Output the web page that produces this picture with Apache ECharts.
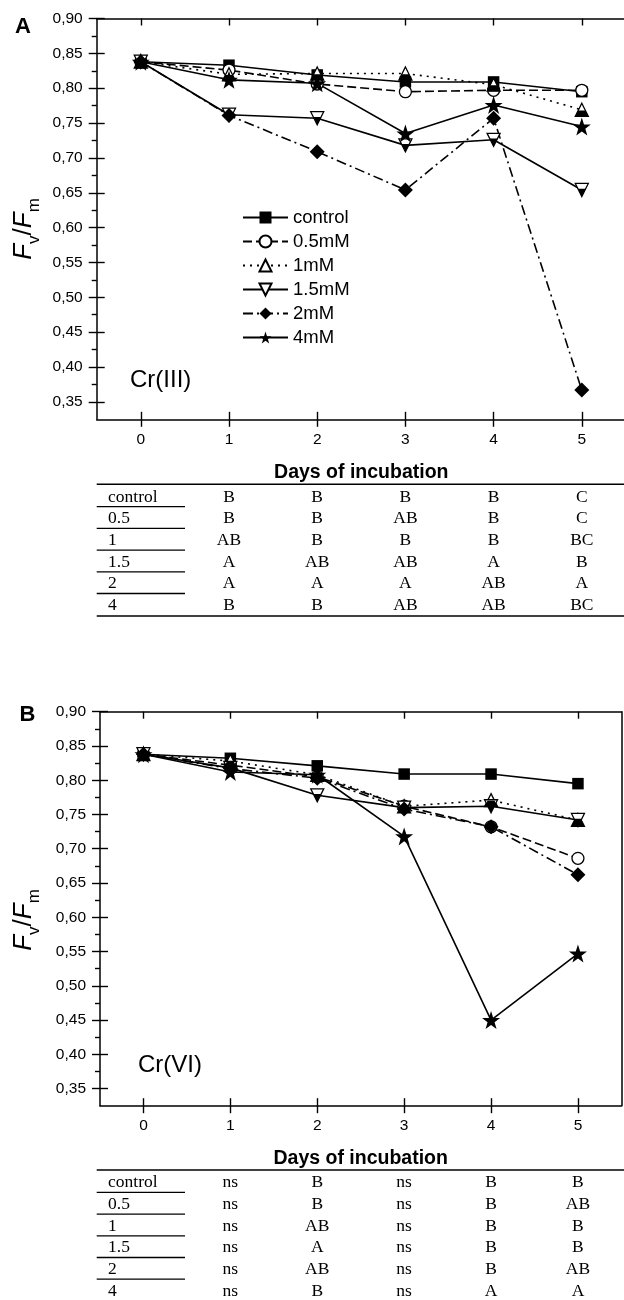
<!DOCTYPE html>
<html><head><meta charset="utf-8">
<script src="https://cdn.jsdelivr.net/npm/echarts@6/dist/echarts.min.js"></script>
<style>html,body{margin:0;padding:0;background:#fff;} #c{width:624px;height:1300px;}</style>
</head><body><div id="c"></div>
<script>
// ---------------- data ----------------
const days = ['0', '1', '2', '3', '4', '5'];
const doseNames = ['control', '0.5mM', '1mM', '1.5mM', '2mM', '4mM'];
const yTickValues = [0.35, 0.40, 0.45, 0.50, 0.55, 0.60, 0.65, 0.70, 0.75, 0.80, 0.85, 0.90];
const yMinorValues = [0.375, 0.425, 0.475, 0.525, 0.575, 0.625, 0.675, 0.725, 0.775, 0.825, 0.875];

// Panel A: Cr(III)
const a_control = [0.838, 0.833, 0.819, 0.809, 0.809, 0.795];
const a_05 = [0.838, 0.826, 0.806, 0.795, 0.797, 0.797];
const a_1 = [0.838, 0.820, 0.821, 0.821, 0.805, 0.769];
const a_15 = [0.838, 0.762, 0.757, 0.718, 0.726, 0.654];
const a_2 = [0.838, 0.761, 0.709, 0.654, 0.757, 0.367];
const a_4 = [0.838, 0.812, 0.807, 0.735, 0.776, 0.745];

// Panel B: Cr(VI)
const b_control = [0.838, 0.832, 0.821, 0.809, 0.809, 0.795];
const b_05 = [0.838, 0.822, 0.805, 0.762, 0.732, 0.686];
const b_1 = [0.838, 0.828, 0.808, 0.762, 0.771, 0.742];
const b_15 = [0.838, 0.818, 0.778, 0.760, 0.762, 0.742];
const b_2 = [0.838, 0.817, 0.803, 0.758, 0.732, 0.662];
const b_4 = [0.838, 0.812, 0.808, 0.718, 0.450, 0.547];

// significance tables (columns: days 1..5)
const rowLabels = ['control', '0.5', '1', '1.5', '2', '4'];
const tableA = [
  ['B', 'B', 'B', 'B', 'C'],
  ['B', 'B', 'AB', 'B', 'C'],
  ['AB', 'B', 'B', 'B', 'BC'],
  ['A', 'AB', 'AB', 'A', 'B'],
  ['A', 'A', 'A', 'AB', 'A'],
  ['B', 'B', 'AB', 'AB', 'BC']
];
const tableB = [
  ['ns', 'B', 'ns', 'B', 'B'],
  ['ns', 'B', 'ns', 'B', 'AB'],
  ['ns', 'AB', 'ns', 'B', 'B'],
  ['ns', 'A', 'ns', 'B', 'B'],
  ['ns', 'AB', 'ns', 'B', 'AB'],
  ['ns', 'B', 'ns', 'A', 'A']
];

// ---------------- styling ----------------
const SANS = '"Liberation Sans", Arial, sans-serif';
const SERIF = '"Liberation Serif", "Times New Roman", serif';
const STAR = 'path://M50,0 L61.8,35.1 L98.1,35.1 L68.8,56.7 L79.4,91 L50,70 L20.6,91 L31.2,56.7 L1.9,35.1 L38.2,35.1 Z';
const UP_FULL = 'path://M50,0 L100,100 L0,100 Z';
const DOWN_FULL = 'path://M0,0 L100,0 L50,100 Z';
const TRAP = 'path://M22.5,0 L77.5,0 L100,100 L0,100 Z';

const TRI = 13;
const doseStyles = [
  { symbol: 'rect', size: 11.5, fill: '#000', dash: 'solid' },
  { symbol: 'circle', size: 12, fill: '#fff', border: true, dash: [9, 4] },
  { symbol: UP_FULL, size: TRI, fill: '#fff', border: true, dash: [2, 5],
    half: { symbol: TRAP, size: [TRI, TRI * 0.45], offset: [0, TRI * 0.275] } },
  { symbol: DOWN_FULL, size: TRI, fill: '#fff', border: true, dash: 'solid',
    half: { symbol: DOWN_FULL, size: [TRI * 0.6, TRI * 0.6], offset: [0, TRI * 0.2] } },
  { symbol: 'diamond', size: 15, fill: '#000', dash: [10, 4, 2, 4] },
  { symbol: STAR, size: 18, fill: '#000', dash: 'solid' }
];

function buildSeries(prefix, dataList, xi, yi) {
  const out = [];
  dataList.forEach((d, k) => {
    const st = doseStyles[k];
    const name = prefix + doseNames[k];
    out.push({
      type: 'line', name: name, data: d, xAxisIndex: xi, yAxisIndex: yi,
      symbol: st.symbol, symbolSize: st.size, showAllSymbol: true,
      lineStyle: { color: '#000', width: 1.6, type: st.dash },
      itemStyle: { color: st.fill, borderColor: '#000', borderWidth: st.border ? 1.3 : 0 },
      z: 2, silent: true
    });
    if (st.half) {
      out.push({
        type: 'line', name: '_h' + name, data: d, xAxisIndex: xi, yAxisIndex: yi,
        symbol: st.half.symbol, symbolSize: st.half.size, symbolOffset: st.half.offset,
        symbolKeepAspect: false, showAllSymbol: true,
        lineStyle: { width: 0, opacity: 0 },
        itemStyle: { color: '#000', borderWidth: 0 }, z: 3, silent: true
      });
    }
  });
  return out;
}

const axisLineStyle = { color: '#000', width: 1.5 };
const tickLineStyle = { color: '#000', width: 1.4 };

function makeX(gridIndex) {
  const base = { type: 'category', data: days, gridIndex: gridIndex, boundaryGap: true, splitLine: { show: false } };
  return [
    Object.assign({}, base, {
      position: 'bottom',
      axisLine: { show: true, onZero: false, lineStyle: axisLineStyle },
      axisTick: { show: true, alignWithLabel: true, inside: false, length: 7.5, lineStyle: tickLineStyle },
      axisLabel: { show: true, margin: 12, color: '#000', fontSize: 15.5, fontFamily: SANS },
      name: 'Days of incubation', nameLocation: 'middle', nameGap: 43,
      nameTextStyle: { color: '#000', fontSize: 19.5, fontWeight: 'bold', fontFamily: SANS }
    }),
    Object.assign({}, base, {
      position: 'bottom',
      axisLine: { show: false, onZero: false },
      axisTick: { show: true, alignWithLabel: true, inside: true, length: 7.5, lineStyle: tickLineStyle },
      axisLabel: { show: false }
    }),
    Object.assign({}, base, {
      position: 'top',
      axisLine: { show: true, onZero: false, lineStyle: axisLineStyle },
      axisTick: { show: true, alignWithLabel: true, inside: true, length: 7, lineStyle: tickLineStyle },
      axisLabel: { show: false }
    })
  ];
}

function makeY(gridIndex) {
  const base = { type: 'value', min: 0.325, max: 0.9, gridIndex: gridIndex, splitLine: { show: false } };
  return [
    Object.assign({}, base, {
      position: 'left',
      axisLine: { show: true, onZero: false, lineStyle: axisLineStyle },
      axisTick: { show: true, inside: false, length: 8, customValues: yTickValues, lineStyle: tickLineStyle },
      axisLabel: { show: true, customValues: yTickValues, margin: 14, color: '#000', fontSize: 15.5, fontFamily: SANS,
        formatter: v => v.toFixed(2).replace('.', ',') }
    }),
    Object.assign({}, base, {
      position: 'left',
      axisLine: { show: false, onZero: false },
      axisTick: { show: true, inside: true, length: 8, customValues: yTickValues, lineStyle: tickLineStyle },
      axisLabel: { show: false }
    }),
    Object.assign({}, base, {
      position: 'left',
      axisLine: { show: false, onZero: false },
      axisTick: { show: true, inside: false, length: 5, customValues: yMinorValues, lineStyle: tickLineStyle },
      axisLabel: { show: false }
    }),
    Object.assign({}, base, {
      position: 'right',
      axisLine: { show: true, onZero: false, lineStyle: axisLineStyle },
      axisTick: { show: false },
      axisLabel: { show: false }
    })
  ];
}

const chart = echarts.init(document.getElementById('c'), null, { renderer: 'canvas' });

const option = {
  animation: false,
  backgroundColor: '#fff',
  grid: [
    { left: 96.7, top: 18.5, width: 529.2, height: 400.8, outerBoundsMode: 'none', containLabel: false },
    { left: 100, top: 711.7, width: 521.4, height: 394, outerBoundsMode: 'none', containLabel: false }
  ],
  xAxis: makeX(0).concat(makeX(1)),
  yAxis: makeY(0).concat(makeY(1)),
  legend: {
    orient: 'vertical', left: 242, top: 208, padding: 0,
    itemWidth: 45, itemHeight: 15, itemGap: 5,
    data: doseNames.slice(),
    selectedMode: false,
    textStyle: { color: '#000', fontSize: 18.5, fontFamily: SANS, lineHeight: 18 }
  },
  series: buildSeries('', [a_control, a_05, a_1, a_15, a_2, a_4], 0, 0)
    .concat(buildSeries('B ', [b_control, b_05, b_1, b_15, b_2, b_4], 3, 4))
};
chart.setOption(option);

// ---------------- texts and tables ----------------
const elems = [];
function txt(x, y, text, font, align, extra) {
  elems.push(Object.assign({
    type: 'text', x: x, y: y, silent: true,
    style: { text: text, font: font, fill: '#000', align: align || 'left', verticalAlign: 'middle' }
  }, extra || {}));
}
function hline(x1, x2, y, w) {
  elems.push({ type: 'line', silent: true, shape: { x1: x1, y1: y, x2: x2, y2: y },
    style: { stroke: '#000', lineWidth: w || 1.3 } });
}
function yTitle(cx, cy) {
  elems.push({
    type: 'text', x: cx, y: cy, rotation: Math.PI / 2, silent: true,
    style: {
      text: '{f|F}{s|v}{n|/}{f|F}{s|m}',
      align: 'center', verticalAlign: 'middle',
      rich: {
        f: { fontFamily: SANS, fontSize: 26, fontStyle: 'italic', fill: '#000', lineHeight: 30, verticalAlign: 'top' },
        n: { fontFamily: SANS, fontSize: 26, fill: '#000', lineHeight: 30, verticalAlign: 'top' },
        s: { fontFamily: SANS, fontSize: 17, fill: '#000', lineHeight: 17, padding: [15, 0, 0, 0], verticalAlign: 'top' }
      }
    }
  });
}
function table(xAxisIdx, top, tbl) {
  const colX = [1, 2, 3, 4, 5].map(i => chart.convertToPixel({ xAxisIndex: xAxisIdx }, i));
  const left = 96.7, right = 624, underEnd = 185, pitch = 21.7;
  hline(left, right, top, 1.4);
  rowLabels.forEach((lab, r) => {
    const cy = top + 12.8 + r * pitch;
    txt(108, cy, lab, '17.5px ' + SERIF, 'left');
    tbl[r].forEach((v, c) => txt(colX[c], cy, v, '17.5px ' + SERIF, 'center'));
    if (r < rowLabels.length - 1) hline(left, underEnd, top + 22.4 + r * pitch, 1.3);
  });
  hline(left, right, top + 131.7, 1.4);
}

txt(23, 27, 'A', 'bold 22px ' + SANS, 'center');
txt(27.5, 715, 'B', 'bold 22px ' + SANS, 'center');
txt(130, 380, 'Cr(III)', '24px ' + SANS, 'left');
txt(138, 1065, 'Cr(VI)', '24px ' + SANS, 'left');
yTitle(26, 229);
yTitle(26, 920);
table(0, 484.3, tableA);
table(3, 1170, tableB);

chart.setOption({ graphic: { elements: elems } });
</script>
</body></html>
